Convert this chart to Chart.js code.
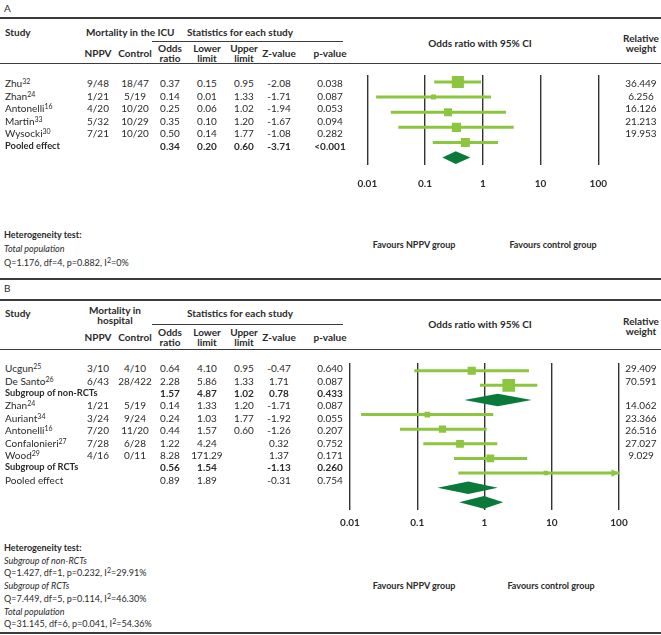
<!DOCTYPE html>
<html>
<head>
<meta charset="utf-8">
<title>NPPV forest plots</title>
<script src="https://cdn.jsdelivr.net/npm/chart.js@4.4.1/dist/chart.umd.min.js"></script>
<style>
  body { margin: 0; background: #fff; }
  #page { position: relative; width: 661px; height: 635px; overflow: hidden;
          font-family: Lato, 'Noto Sans', sans-serif; font-size: 10px; color: #2a2a2a; }
  .t { position: absolute; white-space: nowrap; line-height: 12px; text-align: center;
       transform: translate(-50%, -50%); }
  .t.l { transform: translate(0, -50%); text-align: left; }
  .b { font-weight: bold; }
  .i { font-style: italic; }
  .s { font-size: 9px; }
  .rb { font-size: 9.3px; }
  .two { line-height: 10px; }
  .rule { position: absolute; background: #3c3c3c; }
  sup { font-size: 7px; line-height: 0; vertical-align: 3.5px; }
  canvas { position: absolute; }
</style>
</head>
<body>
<div id="page">
  <canvas id="plotA" width="300" height="140" style="left:330px;top:60px"></canvas>
  <canvas id="plotB" width="320" height="200" style="left:320px;top:345px"></canvas>
</div>
<script>
// Panel A - mortality in the ICU
const studiesA = ['Zhu', 'Zhan', 'Antonelli', 'Martin', 'Wysocki', 'Pooled effect'];
const refsA = ['32', '24', '16', '33', '30', ''];
const nppvA = ['9/48', '1/21', '4/20', '5/32', '7/21', ''];
const controlA = ['18/47', '5/19', '10/20', '10/29', '10/20', ''];
const oddsA = ['0.37', '0.14', '0.25', '0.35', '0.50', '0.34'];
const lowerA = ['0.15', '0.01', '0.06', '0.10', '0.14', '0.20'];
const upperA = ['0.95', '1.33', '1.02', '1.20', '1.77', '0.60'];
const zA = ['-2.08', '-1.71', '-1.94', '-1.67', '-1.08', '-3.71'];
const pA = ['0.038', '0.087', '0.053', '0.094', '0.282', '<0.001'];
const weightA = [36.449, 6.256, 16.126, 21.213, 19.953, null];
// odds ratio and 95% CI as drawn in the plot
const estA = [0.37, 0.14, 0.25, 0.35, 0.50, 0.34];
const ciLowA = [0.144, 0.0142, 0.0255, 0.0345, 0.136, 0.20];
const ciHighA = [0.93, 1.39, 2.53, 3.43, 1.84, 0.61];

// Panel B - mortality in hospital
const studiesB = ['Ucgun', 'De Santo', 'Subgroup of non-RCTs', 'Zhan', 'Auriant', 'Antonelli',
                  'Confalonieri', 'Wood', 'Subgroup of RCTs', 'Pooled effect'];
const refsB = ['25', '26', '', '24', '34', '16', '27', '29', '', ''];
const nppvB = ['3/10', '6/43', '', '1/21', '3/24', '7/20', '7/28', '4/16', '', ''];
const controlB = ['4/10', '28/422', '', '5/19', '9/24', '11/20', '6/28', '0/11', '', ''];
const oddsB = ['0.64', '2.28', '1.57', '0.14', '0.24', '0.44', '1.22', '8.28', '0.56', '0.89'];
const lowerB = ['4.10', '5.86', '4.87', '1.33', '1.03', '1.57', '4.24', '171.29', '1.54', '1.89'];
const upperB = ['0.95', '1.33', '1.02', '1.20', '1.77', '0.60', '', '', '', ''];
const zB = ['-0.47', '1.71', '0.78', '-1.71', '-1.92', '-1.26', '0.32', '1.37', '-1.13', '-0.31'];
const pB = ['0.640', '0.087', '0.433', '0.087', '0.055', '0.207', '0.752', '0.171', '0.260', '0.754'];
const weightB = [29.409, 70.591, null, 14.062, 23.366, 26.516, 27.027, 9.029, null, null];
const estB = [0.645, 2.29, 1.57, 0.141, 0.237, 0.432, 1.22, 8.2, 0.574, 0.98];
const ciLowB = [0.0904, 0.857, 0.50, 0.0146, 0.0554, 0.123, 0.352, 0.408, 0.20, 0.42];
const ciHighB = [4.59, 6.10, 5.03, 1.35, 1.08, 1.55, 4.29, 100, 1.57, 1.9];

const axisTicks = [0.01, 0.1, 1, 10, 100];
const tickLabels = ['0.01', '0.1', '1', '10', '100'];

const LIGHT = '#8cc63f';
const DARK = '#0a7a3b';

const page = document.getElementById('page');
function put(html, x, y, cls) {
    const d = document.createElement('div');
    d.className = 't ' + (cls || '');
    d.innerHTML = html;
    d.style.left = x + 'px';
    d.style.top = y + 'px';
    page.appendChild(d);
    return d;
}
function rule(x, y, w, h) {
    const d = document.createElement('div');
    d.className = 'rule';
    Object.assign(d.style, { left: x + 'px', top: y + 'px', width: w + 'px', height: h + 'px' });
    page.appendChild(d);
}

const col = { nppv: 98, control: 135, odds: 170, lower: 207, upper: 244, z: 279, p: 330, weight: 641 };

function subHeads(y1, y2) {
    put('NPPV', col.nppv, y1, 'b');
    put('Control', col.control, y1, 'b');
    put('Odds<br>ratio', col.odds, y2, 'b two');
    put('Lower<br>limit', col.lower, y2, 'b two');
    put('Upper<br>limit', col.upper, y2, 'b two');
    put('Z-value', col.z, y1, 'b');
    put('p-value', col.p, y1, 'b');
}

function tableRows(names, refs, nppv, control, odds, lower, upper, z, p, weight, bold, y0, step) {
    names.forEach((n, i) => {
        const y = y0 + step * i;
        const cls = bold(i) ? 'b' : '';
        put(refs[i] ? `${n}<sup>${refs[i]}</sup>` : n, 5, y, 'l ' + (cls ? 'b rb' : ''));
        put(nppv[i], col.nppv, y, cls);
        put(control[i], col.control, y, cls);
        put(odds[i], col.odds, y, cls);
        put(lower[i], col.lower, y, cls);
        put(upper[i], col.upper, y, cls);
        put(z[i], col.z, y, cls);
        put(p[i], col.p, y, cls);
        if (weight[i] != null) put(weight[i].toFixed(3), col.weight, y);
    });
}

// ---- panel A text
put('A', 4, 8, 'l');
rule(0, 17, 661, 2);
put('Study', 5, 32, 'l b');
put('Mortality in the ICU', 86, 32, 'l b');
put('Statistics for each study', 240, 32, 'b');
rule(152, 41, 191, 1);
subHeads(53, 53);
put('Odds ratio with 95% CI', 480, 43, 'b');
put('Relative<br>weight', col.weight, 43, 'b two');
rule(0, 63, 661, 1);
tableRows(studiesA, refsA, nppvA, controlA, oddsA, lowerA, upperA, zA, pA, weightA,
    i => weightA[i] == null, 83, 12.55);
put('Heterogeneity test:', 4, 235, 'l b s');
put('Total population', 4, 249, 'l i s');
put('Q=1.176, df=4, p=0.882, I<sup>2</sup>=0%', 4, 263, 'l s');
put('Favours NPPV group', 414, 245, 'b s');
put('Favours control group', 553, 245, 'b s');
rule(0, 278, 661, 2);

// ---- panel B text
put('B', 4, 288, 'l');
rule(0, 299, 661, 2);
put('Study', 5, 313, 'l b');
put('Mortality in<br>hospital', 115, 314.5, 'b two');
put('Statistics for each study', 240, 313, 'b');
rule(152, 324, 191, 1);
subHeads(337, 337);
put('Odds ratio with 95% CI', 480, 323.5, 'b');
put('Relative<br>weight', col.weight, 325.5, 'b two');
rule(0, 348.5, 661, 1);
tableRows(studiesB, refsB, nppvB, controlB, oddsB, lowerB, upperB, zB, pB, weightB,
    i => studiesB[i].startsWith('Subgroup'), 368.3, 12.38);
put('Heterogeneity test:', 4, 548, 'l b s');
put('Subgroup of non-RCTs', 4, 560.7, 'l i s');
put('Q=1.427, df=1, p=0.232, I<sup>2</sup>=29.91%', 4, 573.4, 'l s');
put('Subgroup of RCTs', 4, 586, 'l i s');
put('Q=7.449, df=5, p=0.114, I<sup>2</sup>=46.30%', 4, 598.8, 'l s');
put('Total population', 4, 611.5, 'l i s');
put('Q=31.145, df=6, p=0.041, I<sup>2</sup>=54.36%', 4, 624.2, 'l s');
put('Favours NPPV group', 414, 586, 'b s');
put('Favours control group', 551, 586, 'b s');
rule(0, 632, 661, 2);

// ---- forest plots
function forest(id, est, lo, hi, weight, sizeK, yMin, yMax, padding, scaleH, tickPad) {
    const squares = [], radii = [], whiskers = [];
    est.forEach((e, i) => {
        if (weight[i] == null) return;
        squares.push({ x: e, y: i });
        radii.push(sizeK * Math.sqrt(weight[i]) / (2 * Math.SQRT1_2));
        whiskers.push({ x: lo[i], y: i }, { x: hi[i], y: i }, { x: null, y: null });
    });

    const summaryMarks = {
        id: 'summaryMarks',
        afterDatasetsDraw(chart) {
            const { ctx, scales: { x, y } } = chart;
            ctx.save();
            est.forEach((e, i) => {
                const yy = y.getPixelForValue(i);
                if (weight[i] == null) {
                    const x0 = x.getPixelForValue(lo[i]);
                    const xm = x.getPixelForValue(e);
                    const x1 = x.getPixelForValue(hi[i]);
                    ctx.fillStyle = DARK;
                    ctx.beginPath();
                    ctx.moveTo(x0, yy);
                    ctx.lineTo(xm, yy - 6.3);
                    ctx.lineTo(x1, yy);
                    ctx.lineTo(xm, yy + 6.3);
                    ctx.closePath();
                    ctx.fill();
                } else if (hi[i] >= x.max) {
                    // CI runs off the axis: arrow head
                    const xe = x.getPixelForValue(x.max) - 0.5;
                    ctx.fillStyle = LIGHT;
                    ctx.beginPath();
                    ctx.moveTo(xe, yy);
                    ctx.lineTo(xe - 7, yy - 3.8);
                    ctx.lineTo(xe - 7, yy + 3.8);
                    ctx.closePath();
                    ctx.fill();
                }
            });
            ctx.restore();
        }
    };

    return new Chart(document.getElementById(id), {
        type: 'scatter',
        data: {
            datasets: [
                {
                    data: squares,
                    backgroundColor: LIGHT,
                    borderWidth: 0,
                    pointStyle: 'rect',
                    pointRadius: radii,
                    pointHoverRadius: radii,
                },
                {
                    data: whiskers,
                    showLine: true,
                    spanGaps: false,
                    borderColor: LIGHT,
                    borderWidth: 3,
                    borderCapStyle: 'butt',
                    pointRadius: 0,
                },
            ],
        },
        options: {
            responsive: false,
            animation: false,
            events: [],
            layout: { padding },
            plugins: {
                legend: { display: false },
                tooltip: { enabled: false },
            },
            scales: {
                x: {
                    type: 'logarithmic',
                    min: 0.01,
                    max: 100,
                    afterBuildTicks: (scale) => {
                        scale.ticks = axisTicks.map(value => ({ value }));
                    },
                    afterFit: (scale) => { scale.height = scaleH; },
                    border: { display: false },
                    grid: { color: '#333', lineWidth: 1.4, drawTicks: false },
                    ticks: {
                        autoSkip: false,
                        maxRotation: 0,
                        padding: tickPad,
                        color: '#2a2a2a',
                        font: { family: 'Lato', size: 10, weight: 'bold' },
                        callback: (v, i) => tickLabels[i],
                    },
                },
                y: {
                    type: 'linear',
                    reverse: true,
                    min: yMin,
                    max: yMax,
                    display: false,
                },
            },
        },
        plugins: [summaryMarks],
    });
}

forest('plotA', estA, ciLowA, ciHighA, weightA, 2, -0.46, 5.49,
    { left: 37.3, right: 31.7, top: 15, bottom: 5 }, 30, 13);
forest('plotB', estB, ciLowB, ciHighB, weightB, 1.5, -0.527, 9.49,
    { left: 30, right: 21, top: 18, bottom: 10.5 }, 25, 7.5);
</script>
</body>
</html>
